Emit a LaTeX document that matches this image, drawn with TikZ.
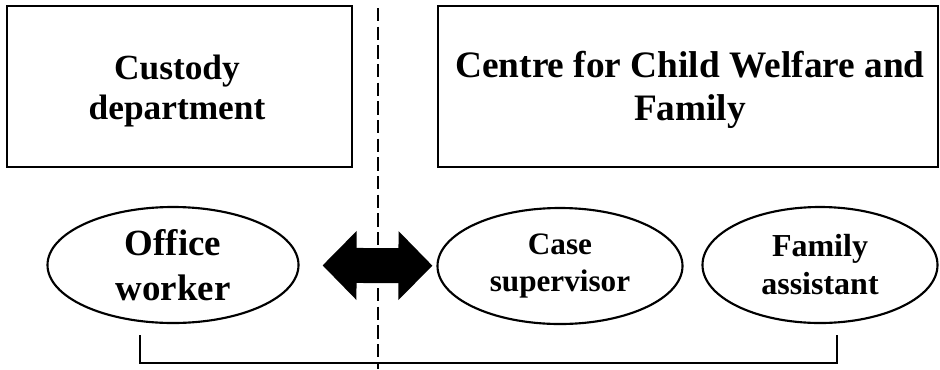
\documentclass[tikz,border=0pt]{standalone}
\usepackage{fontspec}
\setmainfont{Liberation Serif}
\usetikzlibrary{arrows.meta}
\usetikzlibrary{shapes.geometric}
\usetikzlibrary{positioning}

\begin{document}
\begin{tikzpicture}[x=0.75pt, y=-0.75pt,
box/.style={draw, line width=1.9pt, rectangle, inner sep=0pt,
minimum height=120.75pt},
boxtext/.style={align=center, inner sep=0pt},
role/.style={draw, line width=1.6pt, ellipse, align=center, inner sep=0pt,
minimum height=87pt},
bigarrow/.style={line width=26.25pt,
{Triangle[length=25.5pt,width=50.25pt]}-{Triangle[length=25.5pt,width=50.25pt]}}]
\useasboundingbox (0,0) rectangle (940,369);
% organisations
\node[box, minimum width=258.75pt] (custody) at (179.5,86.5) {};
\node[boxtext, font=\bfseries\fontsize{26.5}{30}\selectfont] (custodytext) at (177,91)
{Custody\\department};
\node[box, minimum width=375pt] (centre) at (688,86.5) {};
\node[boxtext, font=\bfseries\fontsize{28}{32}\selectfont] (centretext) at (690,90)
{Centre for Child Welfare and\\Family};
% people
\node[role, minimum width=188.25pt, font=\bfseries\fontsize{27.7}{34}\selectfont] (office) at (173,265)
{Office\\worker};
\node[role, minimum width=183.75pt, font=\bfseries\fontsize{23.4}{28}\selectfont] (case) at (560,266)
{Case\\supervisor};
\node[role, minimum width=176.25pt, font=\bfseries\fontsize{24}{28.5}\selectfont] (family) at (820,265)
{Family\\assistant};
% exchange
\draw[bigarrow, shorten <=17.25pt, shorten >=3pt] (office) -- (case);
% border
\coordinate (top) at (378,8);
\coordinate (bottom) at (378,369);
\draw[line width=1.8pt, dash pattern=on 10pt off 4pt] (top) -- (bottom);
% bracket
\coordinate (bl) at (140,335);
\coordinate (br) at (837,335);
\draw[line width=1.6pt] (bl) -- ++(0,28) -| (br);
\end{tikzpicture}
\end{document}
